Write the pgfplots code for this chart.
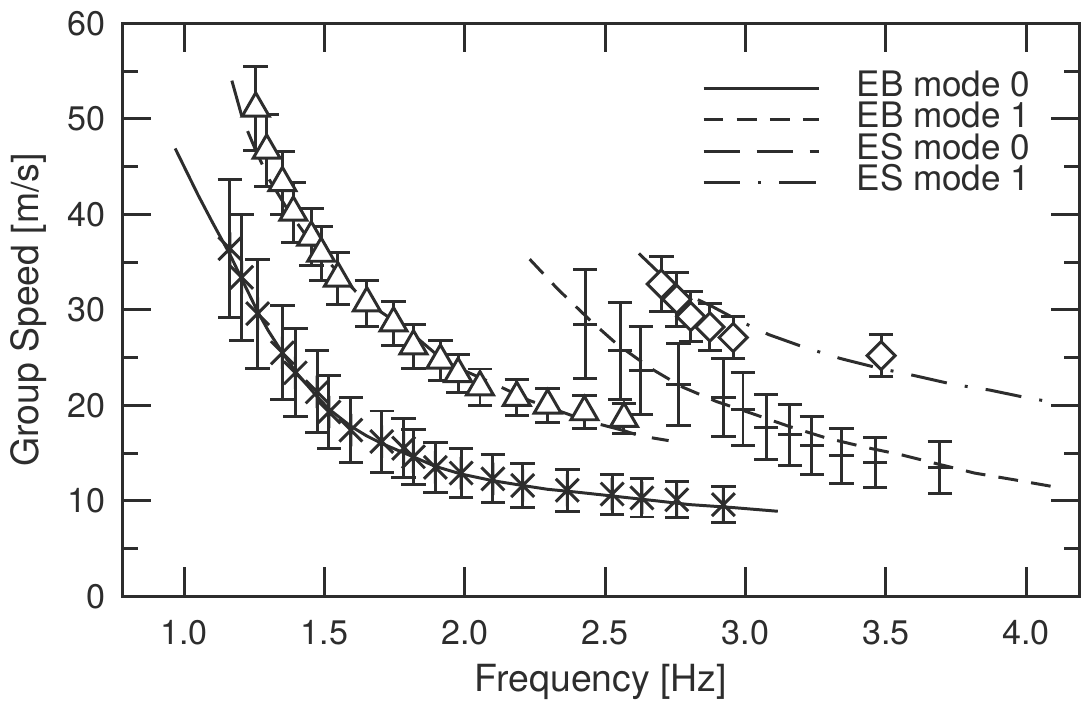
\documentclass[border=0pt]{standalone}
\usepackage{pgfplots}
\pgfplotsset{compat=1.18}
\usepackage{fontspec}
\setmainfont{TeX Gyre Heros}
\definecolor{ink}{RGB}{45,45,45}

\pgfdeclareplotmark{xast}{%
  \pgfpathmoveto{\pgfqpoint{0pt}{\pgfplotmarksize}}%
  \pgfpathlineto{\pgfqpoint{0pt}{-\pgfplotmarksize}}%
  \pgfpathmoveto{\pgfqpoint{.707\pgfplotmarksize}{.707\pgfplotmarksize}}%
  \pgfpathlineto{\pgfqpoint{-.707\pgfplotmarksize}{-.707\pgfplotmarksize}}%
  \pgfpathmoveto{\pgfqpoint{-.707\pgfplotmarksize}{.707\pgfplotmarksize}}%
  \pgfpathlineto{\pgfqpoint{.707\pgfplotmarksize}{-.707\pgfplotmarksize}}%
  \pgfusepathqstroke}

\pgfplotsset{
  databars/.style={
    error bars/y dir=both, error bars/y explicit,
    error bars/error bar style={line width=0.9pt, solid},
    error bars/error mark options={rotate=90, line width=0.9pt, mark size=3.7pt}},
}

\begin{document}
\begin{tikzpicture}
\begin{axis}[
  scale only axis,
  width=289.2pt, height=173.1pt,
  xmin=0.78, xmax=4.19, ymin=0, ymax=60,
  axis line style={ink, line width=0.9pt},
  major tick style={draw=ink, line width=0.9pt},
  minor tick style={draw=ink, line width=0.9pt},
  tick align=inside,
  xtick={1,1.5,2,2.5,3,3.5,4},
  xticklabels={1.0,1.5,2.0,2.5,3.0,3.5,4.0},
  ytick={0,10,20,30,40,50,60},
  yticklabels={0,10,20,30,40,50,60},
  minor ytick={5,15,25,35,45,55},
  major tick length=8.7pt,
  minor tick length=4.8pt,
  tick label style={font=\fontsize{10.3}{12}\selectfont, text=ink},
  xticklabel style={anchor=center, yshift=-11pt},
  yticklabel style={xshift=-1.7pt},
  xlabel={Frequency [Hz]},
  ylabel={Group Speed [m/s]},
  label style={font=\fontsize{11.3}{13}\selectfont, text=ink},
  xlabel style={at={(axis description cs:0.5,0)}, anchor=center, yshift=-25.8pt},
  ylabel style={at={(axis description cs:-0.0975,0.5)}, anchor=center},
  legend style={draw=none, fill=none, at={(0.605,0.915)}, anchor=north west,
    inner sep=0pt, row sep=0pt, column sep=10.4pt,
    font=\fontsize{10.6}{12}\selectfont, text=ink,
    nodes={inner sep=0.4pt, text height=6.7pt, text depth=2.0pt}},
  legend cell align=left,
  legend image code/.code={\draw[#1] (0pt,0pt) -- (35pt,0pt);},
]
% EB mode 0 (solid)
\addplot[ink, line width=0.9pt] coordinates {
(0.968,46.9) (1.05,42.0) (1.10,39.2) (1.163,35.8) (1.209,33.0) (1.262,29.8)
(1.30,27.8) (1.35,25.5) (1.40,23.4) (1.474,20.9) (1.516,19.6) (1.594,17.8)
(1.65,16.8) (1.704,16.0) (1.76,15.3) (1.817,14.6) (1.895,13.6) (1.987,12.8)
(2.100,12.1) (2.206,11.6) (2.295,11.2) (2.40,10.9) (2.525,10.5) (2.68,10.0)
(2.80,9.6) (2.95,9.3) (3.115,8.9)};
\addlegendentry{EB mode 0}
% EB mode 1 (short dashes)
\addplot[ink, line width=0.9pt, dash pattern=on 6pt off 4pt] coordinates {
(2.231,35.3) (2.330,32.2) (2.450,28.8) (2.542,26.4) (2.666,23.8) (2.776,21.9)
(2.896,20.4) (3.027,19.1) (3.154,17.8) (3.285,16.6) (3.427,15.6) (3.557,14.8)
(3.692,13.8) (3.816,12.9) (3.957,12.2) (4.092,11.5)};
\addlegendentry{EB mode 1}
% ES mode 0 (long dashes)
\addplot[ink, line width=0.9pt, dash pattern=on 11pt off 5pt] coordinates {
(1.170,54.0) (1.209,49.9) (1.258,46.5) (1.304,43.6) (1.375,40.2) (1.446,37.3)
(1.552,33.8) (1.612,31.9) (1.700,29.8) (1.800,27.8) (1.900,25.3) (2.000,23.6)
(2.100,22.3) (2.230,20.5) (2.365,19.1) (2.430,18.4) (2.560,17.4) (2.624,16.8)
(2.726,16.3)};
\addlegendentry{ES mode 0}
% ES mode 1 (dash-dot)
\addplot[ink, line width=0.9pt, dash pattern=on 11pt off 5.5pt on 0.9pt off 5.5pt] coordinates {
(2.620,35.9) (2.755,32.1) (2.878,30.4) (2.967,29.0) (3.083,27.4) (3.207,26.1)
(3.338,24.9) (3.473,23.9) (3.603,23.1) (3.738,22.2) (3.869,21.6) (4.000,20.8)
(4.099,20.3)};
\addlegendentry{ES mode 1}

% data: EB mode 0 (asterisks)
\addplot[forget plot, ink, only marks, mark=xast, mark size=4.9pt,
  mark options={line width=0.9pt, solid}, databars] coordinates {
(1.163,36.4) +- (0,7.2)  (1.205,33.4) +- (0,6.6)  (1.262,29.6) +- (0,5.7)
(1.350,25.5) +- (0,4.9)  (1.396,23.4) +- (0,4.6)  (1.474,21.4) +- (0,4.3)
(1.516,19.3) +- (0,3.8)  (1.594,17.4) +- (0,3.4)  (1.704,16.2) +- (0,3.2)
(1.782,15.5) +- (0,3.1)  (1.817,14.6) +- (0,2.9)  (1.895,13.5) +- (0,2.6)
(1.987,12.9) +- (0,2.6)  (2.100,12.3) +- (0,2.5)  (2.206,11.6) +- (0,2.3)
(2.365,11.1) +- (0,2.2)  (2.525,10.7) +- (0,2.1)  (2.631,10.3) +- (0,2.0)
(2.755,10.1) +- (0,1.9)  (2.921,9.6) +- (0,1.9)};
% data: ES mode 0 (triangles)
\addplot[forget plot, ink, only marks, mark=triangle*, mark size=4.7pt,
  mark options={fill=white, line width=0.9pt, solid}, databars] coordinates {
(1.255,51.1) +- (0,4.4)  (1.294,46.7) +- (0,3.8)  (1.350,43.3) +- (0,3.3)
(1.389,40.2) +- (0,3.1)  (1.453,37.6) +- (0,3.0)  (1.488,35.9) +- (0,2.8)
(1.548,33.3) +- (0,2.7)  (1.651,30.7) +- (0,2.4)  (1.746,28.6) +- (0,2.3)
(1.817,26.2) +- (0,2.3)  (1.913,24.7) +- (0,2.1)  (1.976,23.3) +- (0,2.0)
(2.054,21.9) +- (0,1.9)  (2.185,20.8) +- (0,1.9)  (2.295,20.0) +- (0,1.8)
(2.426,19.3) +- (0,1.7)  (2.567,18.6) +- (0,1.6)};
% data: EB mode 1 (bars only)
\addplot[forget plot, ink, only marks, mark=-, mark size=3.7pt,
  mark options={line width=0.9pt, solid}, databars] coordinates {
(2.429,28.5) +- (0,5.7)  (2.553,25.7) +- (0,5.1)  (2.627,23.6) +- (0,4.6)
(2.762,22.2) +- (0,4.3)  (2.921,20.8) +- (0,4.1)  (2.991,19.6) +- (0,3.8)
(3.073,17.7) +- (0,3.4)  (3.158,16.9) +- (0,3.2)  (3.236,15.8) +- (0,3.0)
(3.342,14.7) +- (0,2.9)  (3.462,14.0) +- (0,2.6)  (3.692,13.5) +- (0,2.7)};
% data: ES mode 1 (diamonds)
\addplot[forget plot, ink, only marks, mark=square*, mark size=3pt,
  mark options={fill=white, rotate=45, line width=0.9pt, solid}, databars] coordinates {
(2.700,32.7) +- (0,2.9)  (2.755,31.1) +- (0,2.8)  (2.805,29.3) +- (0,2.6)
(2.873,28.2) +- (0,2.5)  (2.956,27.1) +- (0,2.2)  (3.483,25.2) +- (0,2.2)};
\end{axis}
\end{tikzpicture}
\end{document}
